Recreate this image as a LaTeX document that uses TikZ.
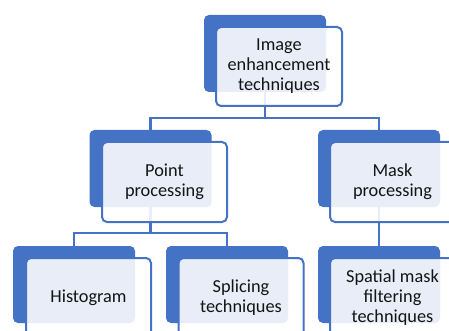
\documentclass[tikz,border=0pt]{standalone}
\usepackage{fontspec}
\setmainfont{Carlito}
\definecolor{accent}{HTML}{4472C4}
\definecolor{ink}{HTML}{141414}
\begin{document}
\begin{tikzpicture}[x=1pt,y=-1pt,
  backbox/.style={draw=none, fill=accent, rounded corners=5pt,
    minimum width=122pt, minimum height=77pt, inner sep=0pt},
  frontbox/.style={draw=accent, line width=2pt, fill=white, fill opacity=0.88,
    text opacity=1, rounded corners=5pt, minimum width=125pt, minimum height=80pt,
    inner sep=0pt, align=center, text=ink, font=\fontsize{18.3}{20}\selectfont},
  link/.style={draw=accent, line width=2.2pt}]
\clip (0,0) rectangle (449,331);

% solid blue cards behind each label
\node[backbox] (topb)  at (265,53.5)  {};
\node[backbox] (ppb)   at (150.5,168.5) {};
\node[backbox] (mpb)   at (379,168.5) {};
\node[backbox] (histb) at (74,284.5)  {};
\node[backbox] (splb)  at (227,284.5) {};
\node[backbox] (smb)   at (379,284.5) {};

% tree connectors
\draw[link] (topb.south) -- ++(0,25.5) -| (ppb.north);
\draw[link] (topb.south) -- ++(0,25.5) -| (mpb.north);
\draw[link] (ppb.south) -- ++(0,26) -| (histb.north);
\draw[link] (ppb.south) -- ++(0,26) -| (splb.north);
\draw[link] (mpb.south) -- (smb.north);

% translucent label cards
\node[frontbox, minimum width=126pt, minimum height=79pt] (top) at (279,66.5) {Image\\enhancement\\techniques};
\node[frontbox] (pp)   at (164.5,182) {Point\\processing};
\node[frontbox] (mp)   at (392.5,182) {Mask\\processing};
\node[frontbox] (hist) at (88.5,298)  {Histogram};
\node[frontbox] (spl)  at (241,298)   {Splicing\\techniques};
\node[frontbox] (sm)   at (392.5,298) {Spatial mask\\filtering\\techniques};
\end{tikzpicture}
\end{document}
